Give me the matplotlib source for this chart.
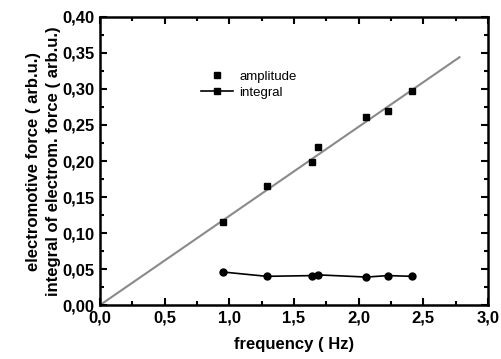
import matplotlib
matplotlib.use("Agg")
import matplotlib.pyplot as plt
import numpy as np
from matplotlib.ticker import MultipleLocator, FuncFormatter
from matplotlib.lines import Line2D

plt.rcParams['font.family'] = ['Liberation Sans', 'DejaVu Sans']

freq = [0.95, 1.29, 1.64, 1.69, 2.06, 2.23, 2.41]
amplitude = [0.115, 0.166, 0.199, 0.220, 0.261, 0.270, 0.297]
integral = [0.046, 0.040, 0.041, 0.042, 0.039, 0.041, 0.040]
fit_x = [0.0, 2.78]
fit_y = [0.0, 0.344]

fig = plt.figure(figsize=(5.02, 3.59), dpi=100)
ax = fig.add_axes([0.199, 0.150, 0.773, 0.803])

ax.plot(fit_x, fit_y, color='#8a8a8a', lw=1.5, zorder=1)
ax.plot(freq, amplitude, ls='none', marker='s', ms=5, color='black', zorder=3)
ax.plot(freq, integral, ls='-', lw=1.2, marker='o', ms=5, color='black', zorder=3)

ax.set_xlim(0, 3.0)
ax.set_ylim(0, 0.40)
ax.xaxis.set_major_locator(MultipleLocator(0.5))
ax.xaxis.set_minor_locator(MultipleLocator(0.25))
ax.yaxis.set_major_locator(MultipleLocator(0.05))
ax.yaxis.set_minor_locator(MultipleLocator(0.025))
ax.xaxis.set_major_formatter(FuncFormatter(lambda v, p: f"{v:.1f}".replace('.', ',')))
ax.yaxis.set_major_formatter(FuncFormatter(lambda v, p: f"{v:.2f}".replace('.', ',')))
ax.tick_params(which='both', direction='in', top=True, right=True, width=1.5)
ax.tick_params(which='major', length=5, labelsize=12, pad=4)
ax.tick_params(which='minor', length=3)
for lab in ax.get_xticklabels() + ax.get_yticklabels():
    lab.set_fontweight('bold')
for s in ax.spines.values():
    s.set_linewidth(1.8)

ax.set_xlabel('frequency ( Hz)', fontsize=12, fontweight='bold', labelpad=8)
ax.set_ylabel('electromotive force ( arb.u.)\nintegral of electrom. force ( arb.u.)',
              fontsize=12, fontweight='bold', labelpad=1, linespacing=1.4)

handles = [Line2D([], [], ls='none', marker='s', ms=4.5, color='black'),
           Line2D([], [], ls='-', lw=1.2, marker='s', ms=4.5, color='black')]
ax.legend(handles, ['amplitude', 'integral'], loc='upper left', bbox_to_anchor=(0.23, 0.855),
          frameon=False, fontsize=9.5, handlelength=2.4, handletextpad=0.5, labelspacing=0.3)

fig.savefig('out.png', dpi=100)
